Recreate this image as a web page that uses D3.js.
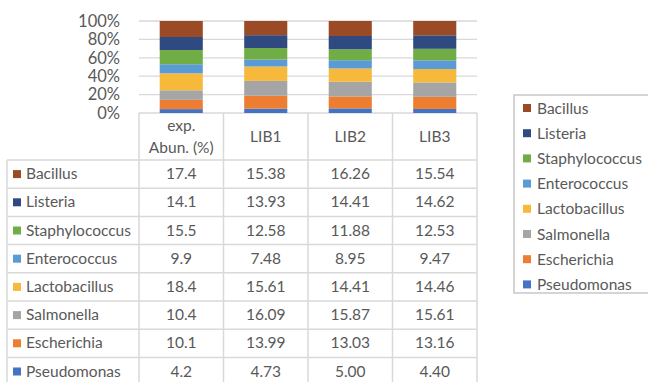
<!DOCTYPE html>
<html>
<head>
<meta charset="utf-8">
<script src="https://cdn.jsdelivr.net/npm/d3@7"></script>
<style>
  body { margin: 0; background: #fff; }
  svg text { font-family: Lato, "Open Sans", sans-serif; fill: #595959; }
</style>
</head>
<body>
<div id="box"></div>
<script>
// data
var columns = ["exp. Abun. (%)", "LIB1", "LIB2", "LIB3"];
var species = ["Pseudomonas", "Escherichia", "Salmonella", "Lactobacillus",
               "Enterococcus", "Staphylococcus", "Listeria", "Bacillus"];
var pseudomonas    = [4.2, 4.73, 5.00, 4.40];
var escherichia    = [10.1, 13.99, 13.03, 13.16];
var salmonella     = [10.4, 16.09, 15.87, 15.61];
var lactobacillus  = [18.4, 15.61, 14.41, 14.46];
var enterococcus   = [9.9, 7.48, 8.95, 9.47];
var staphylococcus = [15.5, 12.58, 11.88, 12.53];
var listeria       = [14.1, 13.93, 14.41, 14.62];
var bacillus       = [17.4, 15.38, 16.26, 15.54];
var valueLabels = {
    Pseudomonas: ["4.2", "4.73", "5.00", "4.40"],
    Escherichia: ["10.1", "13.99", "13.03", "13.16"],
    Salmonella: ["10.4", "16.09", "15.87", "15.61"],
    Lactobacillus: ["18.4", "15.61", "14.41", "14.46"],
    Enterococcus: ["9.9", "7.48", "8.95", "9.47"],
    Staphylococcus: ["15.5", "12.58", "11.88", "12.53"],
    Listeria: ["14.1", "13.93", "14.41", "14.62"],
    Bacillus: ["17.4", "15.38", "16.26", "15.54"]
};
var yTicks = [0, 0.2, 0.4, 0.6, 0.8, 1];

var series = [pseudomonas, escherichia, salmonella, lactobacillus,
              enterococcus, staphylococcus, listeria, bacillus];
var colors = ["#4472C4", "#ED7D31", "#A5A5A5", "#F6B93B",
              "#5B9BD5", "#70AD47", "#2F4A80", "#9A4A24"];

var svg = d3.select("#box").append("svg")
    .attr("width", 648).attr("height", 382);

var plotLeft = 139, plotRight = 477, plotTop = 21, plotBottom = 113;
var gridColor = "#d9d9d9";

// rows for stack
var rows = columns.map(function(c, i) {
    var r = { col: c };
    species.forEach(function(s, j) { r[s] = series[j][i]; });
    return r;
});
var stack = d3.stack().keys(species).offset(d3.stackOffsetExpand);
var stacked = stack(rows);

var x = d3.scaleBand().domain(columns).range([plotLeft, plotRight]).paddingInner(0).paddingOuter(0);
var y = d3.scaleLinear().domain([0, 1]).range([plotBottom, plotTop]);
var color = d3.scaleOrdinal().domain(species).range(colors);

// gridlines
svg.append("g").selectAll("line")
    .data(yTicks)
    .enter().append("line")
    .attr("x1", plotLeft).attr("x2", plotRight)
    .attr("y1", function(d) { return y(d); })
    .attr("y2", function(d) { return y(d); })
    .attr("stroke", gridColor).attr("stroke-width", 1.3);

// y axis labels
var yAxis = d3.axisLeft(y).tickValues(yTicks).tickFormat(d3.format(".0%")).tickSize(0).tickPadding(19);
var yg = svg.append("g").attr("transform", "translate(" + plotLeft + ",0)").call(yAxis);
yg.select(".domain").remove();
yg.selectAll("text").attr("font-size", 16.5).style("fill", "#595959")
    .style("font-family", "Lato, 'Open Sans', sans-serif");

// bars
var barW = x.bandwidth() * 0.51;
svg.append("g").selectAll("g")
    .data(stacked)
    .enter().append("g")
    .attr("fill", function(d) { return color(d.key); })
    .selectAll("rect")
    .data(function(d) { return d; })
    .enter().append("rect")
    .attr("x", function(d) { return x(d.data.col) + (x.bandwidth() - barW) / 2; })
    .attr("width", barW)
    .attr("y", function(d) { return y(d[1]); })
    .attr("height", function(d) { return y(d[0]) - y(d[1]); });

// data table
var headerBottom = 160, rowH = 28.2, tableLeft = 7;
var tableRows = species.slice().reverse();
var tableBottom = headerBottom + rowH * tableRows.length;
var fs = 15.5;
var tg = svg.append("g");

// vertical lines
columns.concat(["end"]).forEach(function(c, i) {
    var xx = i < columns.length ? x(c) : plotRight;
    tg.append("line").attr("x1", xx).attr("x2", xx)
        .attr("y1", plotBottom).attr("y2", tableBottom)
        .attr("stroke", gridColor).attr("stroke-width", 1.5);
});
tg.append("line").attr("x1", tableLeft).attr("x2", tableLeft)
    .attr("y1", headerBottom).attr("y2", tableBottom)
    .attr("stroke", gridColor).attr("stroke-width", 1.5);

// horizontal lines
d3.range(tableRows.length + 1).forEach(function(i) {
    var yy = headerBottom + i * rowH;
    tg.append("line").attr("x1", tableLeft).attr("x2", plotRight)
        .attr("y1", yy).attr("y2", yy)
        .attr("stroke", gridColor).attr("stroke-width", 1.5);
});

// header text
columns.forEach(function(c) {
    var cx = x(c) + x.bandwidth() / 2;
    var t = tg.append("text").attr("text-anchor", "middle").attr("font-size", fs);
    if (c.indexOf("exp.") === 0) {
        t.append("tspan").attr("x", cx).attr("y", 131).text("exp.");
        t.append("tspan").attr("x", cx).attr("y", 153).text("Abun. (%)");
    } else {
        t.attr("x", cx).attr("y", 142).text(c);
    }
});

// row text
tableRows.forEach(function(s, i) {
    var cy = headerBottom + i * rowH + rowH / 2 + 5;
    tg.append("rect").attr("x", 13).attr("y", cy - 9)
        .attr("width", 8).attr("height", 8).attr("fill", color(s));
    tg.append("text").attr("x", 26).attr("y", cy).attr("font-size", fs).text(s);
    columns.forEach(function(c, j) {
        tg.append("text").attr("x", x(c) + x.bandwidth() / 2).attr("y", cy)
            .attr("text-anchor", "middle").attr("font-size", fs)
            .text(valueLabels[s][j]);
    });
});

// legend
var lg = svg.append("g");
lg.append("rect").attr("x", 514).attr("y", 95).attr("width", 140).attr("height", 198)
    .attr("fill", "none").attr("stroke", "#bfbfbf").attr("stroke-width", 1.3);
tableRows.forEach(function(s, i) {
    var ly = 108 + i * 25.2;
    lg.append("rect").attr("x", 523).attr("y", ly - 4)
        .attr("width", 8).attr("height", 8).attr("fill", color(s));
    lg.append("text").attr("x", 537).attr("y", ly + 5.5).attr("font-size", fs).text(s);
});
</script>
</body>
</html>
